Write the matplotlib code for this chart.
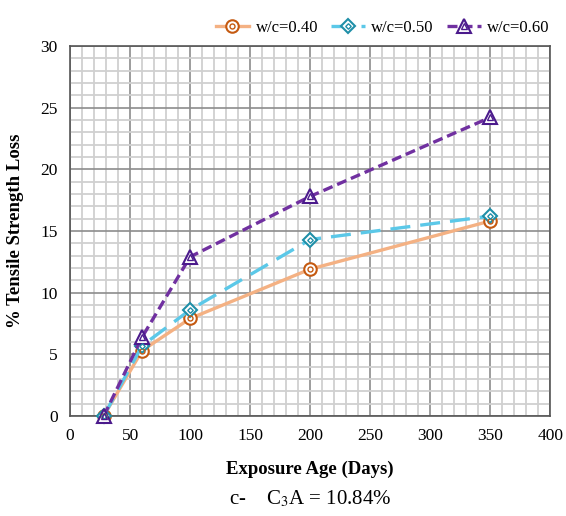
import matplotlib.pyplot as plt
from matplotlib.ticker import MultipleLocator
from matplotlib.legend_handler import HandlerTuple

plt.rcParams['font.family'] = ['Liberation Serif', 'DejaVu Serif']

days = [28, 60, 100, 200, 350]
loss_040 = [0.0, 5.3, 7.9, 11.9, 15.8]
loss_050 = [0.0, 5.7, 8.6, 14.3, 16.2]
loss_060 = [0.0, 6.4, 12.9, 17.8, 24.2]
labels = ['w/c=0.40', 'w/c=0.50', 'w/c=0.60']

fig = plt.figure(figsize=(5.66, 5.16), dpi=100)
ax = fig.add_axes([0.124, 0.194, 0.848, 0.717])

# major/minor grid like the excel chart
ax.xaxis.set_major_locator(MultipleLocator(50))
ax.xaxis.set_minor_locator(MultipleLocator(10))
ax.yaxis.set_major_locator(MultipleLocator(5))
ax.yaxis.set_minor_locator(MultipleLocator(1))
ax.grid(which='minor', color='#d0d0d0', lw=1.3)
ax.grid(which='major', color='#8c8c8c', lw=1.2)
ax.set_axisbelow(True)
ax.tick_params(which='both', length=0, labelsize=12.5, pad=9)
for s in ax.spines.values():
    s.set_color('#555555')
    s.set_linewidth(1.2)

ax.set_xlim(0, 400)
ax.set_ylim(0, 30)

series = [
    (loss_040, '#F4B183', '#C55A11', 'o', '-', 9),
    (loss_050, '#5BC8E8', '#1F8FA8', 'D', (0, (6, 3)), 7),
    (loss_060, '#7030A0', '#4B1A8C', '^', (0, (3, 1.5)), 9.5),
]

handles = []
for vals, lc, mc, mk, ls, ms in series:
    line, = ax.plot(days, vals, color=lc, ls=ls, lw=2.4, marker=mk, ms=ms,
                    mfc='white', mec=mc, mew=1.5, zorder=3, clip_on=False)
    inner, = ax.plot(days, vals, ls='none', marker=mk, ms=ms * 0.4,
                     mfc='none', mec=mc, mew=1.0, zorder=4, clip_on=False)
    handles.append((line, inner))

ax.legend(handles, labels, handler_map={tuple: HandlerTuple(ndivide=1)},
          loc='lower right', bbox_to_anchor=(1.02, 1.0), ncol=3, frameon=False,
          fontsize=12, handlelength=2.0, columnspacing=0.8, handletextpad=0.4,
          borderaxespad=0.2)

ax.set_ylabel('% Tensile Strength Loss', fontsize=13.5, fontweight='bold', labelpad=12)
ax.set_xlabel('Exposure Age (Days)', fontsize=13.5, fontweight='bold', labelpad=12)

fig.text(0.548, 0.022, 'c-    C$_3$A = 10.84%', fontsize=15, ha='center',
         math_fontfamily='stix')

fig.savefig('out.png', dpi=100)
